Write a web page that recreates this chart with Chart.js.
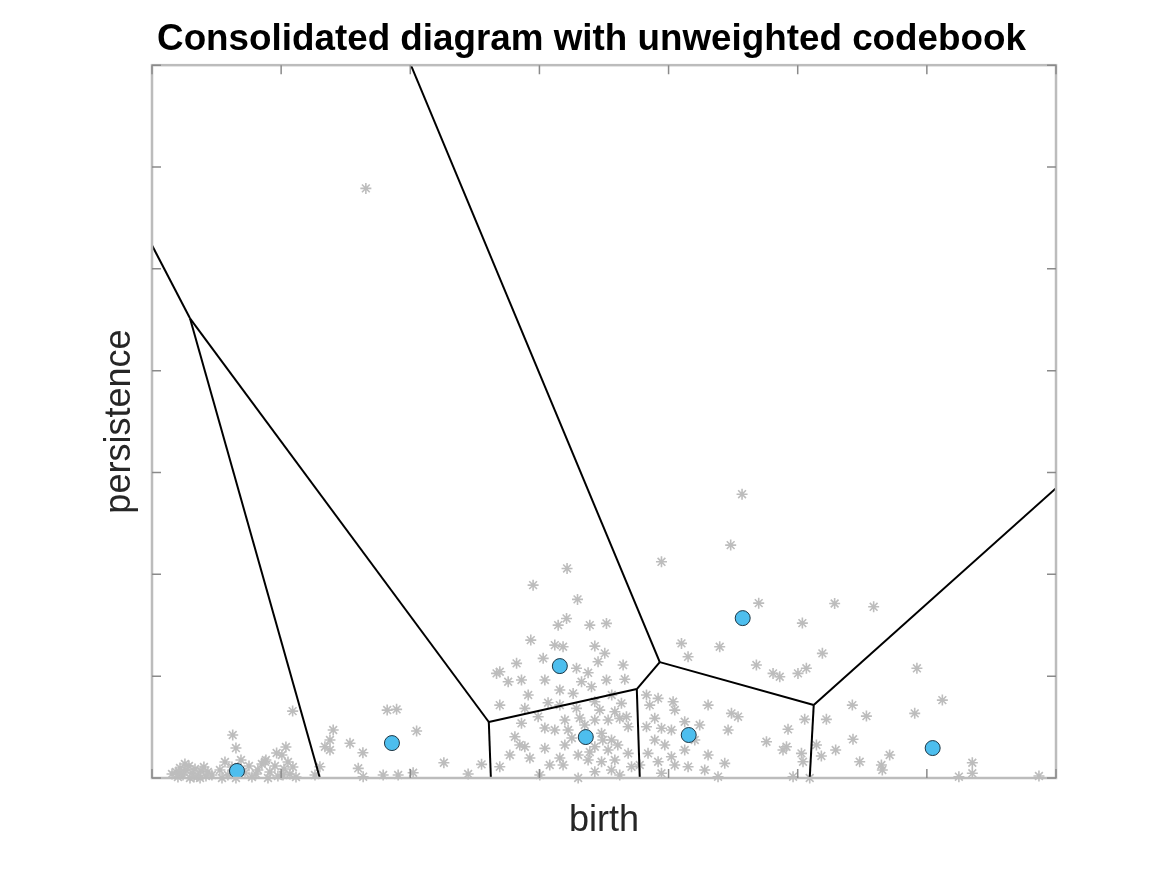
<!DOCTYPE html>
<html>
<head>
<meta charset="utf-8">
<script src="https://cdn.jsdelivr.net/npm/chart.js@4"></script>
<style>
  body{margin:0;background:#fff}
</style>
</head>
<body>
<canvas id="chart" width="1167" height="875"></canvas>
<script>
// grey persistence points (birth, persistence)
const starX = [0.186,0.217,0.240,0.263,0.286,0.310,0.333,0.356,0.379,0.402,
  0.201,0.294,0.372,0.433,0.464,0.255,0.526,0.565,0.588,0.619,
  0.689,0.720,0.751,0.774,0.542,0.650,0.820,0.851,0.882,0.913,
  0.952,0.975,1.006,1.022,1.053,1.068,1.091,1.115,1.037,0.898,
  1.089,0.625,0.650,0.965,0.875,
  1.403,1.378,1.339,1.378,1.533,1.633,1.821,1.894,2.049,2.260,
  1.597,1.635,1.790,1.906,2.022,1.300,1.262,2.448,2.552,2.668,
  2.933,3.119,3.183,3.429,3.506,3.454,3.029,2.823,2.693,2.758,
  2.861,3.042,3.287,3.377,3.648,3.661,3.519,3.326,3.403,2.913,
  3.261,3.067,2.887,3.287,3.429,3.635,3.622,3.532,3.429,3.197,
  2.990,2.861,2.810,2.887,3.042,3.197,3.119,3.222,3.481,3.558,
  3.532,3.429,3.300,3.377,3.481,3.584,3.687,3.713,3.558,3.429,
  3.183,3.300,3.003,2.693,3.674,3.687,3.584,
  3.829,3.919,4.035,4.048,3.893,3.829,3.945,4.022,4.125,4.241,
  4.306,4.487,4.538,4.461,3.893,3.841,3.919,4.022,4.125,4.048,
  4.151,4.306,4.435,4.280,4.383,3.945,4.100,4.151,4.396,4.680,
  4.569,4.481,3.945,3.214,2.951,3.295,3.210,3.145,3.390,3.519,4.698,
  5.286,5.036,5.588,
  4.809,4.861,5.002,5.067,5.191,5.923,6.120,5.906,5.423,5.532,
  5.054,5.222,4.925,4.758,4.886,4.913,5.029,5.041,5.183,5.294,
  5.428,5.480,5.648,5.655,5.712,5.145,6.352,6.352,6.248,6.868,
  4.964,5.093,1.656,
  3.251,3.351,3.158,3.390,3.607,3.491,3.080,3.622,2.926,2.771,
  3.042,3.313,3.467,3.560,3.158,3.854,3.971,4.203,3.777,2.693,
  3.158,2.848,0.217,0.325,0.418,0.805,1.014,0.155];
const starY = [0.059,0.098,0.029,0.079,0.118,0.049,0.088,0.020,0.069,0.108,
  0.010,0.000,0.000,0.059,0.029,0.137,0.079,0.157,0.029,0.108,
  0.177,0.049,0.118,0.010,0.000,0.000,0.079,0.137,0.177,0.059,
  0.118,0.020,0.226,0.088,0.157,0.039,0.108,0.010,0.304,0.000,
  0.657,0.422,0.294,0.245,0.160,
  0.471,0.373,0.307,0.275,0.341,0.248,0.667,0.674,0.461,0.150,
  0.095,0.013,0.029,0.029,0.052,0.111,0.029,0.039,0.134,1.027,
  1.354,1.305,1.289,1.295,1.224,1.141,1.175,1.126,1.043,0.945,
  0.962,0.962,1.077,1.033,1.109,0.969,0.962,0.945,0.896,0.815,
  0.831,0.739,0.684,0.684,0.749,0.733,0.586,0.569,0.569,0.569,
  0.602,0.537,0.405,0.307,0.291,0.324,0.471,0.471,0.439,0.373,
  0.275,0.307,0.226,0.177,0.160,0.177,0.242,0.111,0.079,0.062,
  0.128,0.000,0.029,0.111,0.602,0.503,0.651,
  0.815,0.782,0.749,0.667,0.586,0.503,0.488,0.471,0.552,0.520,
  0.716,0.635,0.602,0.471,0.373,0.242,0.160,0.209,0.275,0.128,
  0.111,0.226,0.144,0.079,0.013,0.046,1.322,1.190,1.289,1.109,
  2.787,2.287,2.123,2.058,1.894,1.754,1.567,1.501,1.501,1.518,1.717,
  1.714,1.521,1.681,
  1.027,0.994,1.027,1.077,1.224,1.077,0.765,0.635,0.716,0.608,
  0.576,0.576,0.478,0.356,0.275,0.307,0.242,0.160,0.216,0.275,
  0.380,0.160,0.128,0.079,0.226,0.324,0.150,0.046,0.013,0.020,
  0.013,0.000,5.790,
  0.393,0.520,0.196,0.255,0.324,0.373,0.128,0.029,0.196,0.226,
  0.491,0.589,0.667,0.815,0.716,0.716,0.324,0.373,0.128,0.716,
  0.864,0.324,0.049,0.010,0.020,0.039,0.029,0.039];

// codebook centers
const codeX = [0.658,1.858,3.158,3.359,4.156,4.574,6.045];
const codeY = [0.069,0.343,1.099,0.402,0.422,1.570,0.294];

// voronoi vertices and edges between them
const vertX = [2.005,3.932,0.000,0.294,1.300,2.608,2.624,3.754,3.777,5.124,5.093,7.000];
const vertY = [7.000,1.138,5.231,4.514,0.000,0.550,0.000,0.873,0.000,0.716,0.000,2.846];
const edges = [[0,1],[2,3],[3,4],[3,5],[5,6],[5,7],[7,8],[7,1],[1,9],[9,10],[9,11]];

const axisMin = 0, axisMax = 7;
const fontFam = 'Liberation Sans, Arial, sans-serif';

const lineSets = edges.map(e=>({
  type:'line',
  data:[{x:vertX[e[0]],y:vertY[e[0]]},{x:vertX[e[1]],y:vertY[e[1]]}],
  borderColor:'#000',
  borderWidth:2,
  pointRadius:0,
  fill:false,
  order:1
}))

// matlab style box with inward ticks
const boxPlugin = {
  id:'box',
  afterDatasetsDraw(chart){
    const {ctx, chartArea:a, scales} = chart
    ctx.save()
    ctx.strokeStyle='#bcbcbc'
    ctx.lineWidth=2.5
    ctx.strokeRect(a.left, a.top, a.right-a.left, a.bottom-a.top)
    ctx.strokeStyle='#8a8a8a'
    ctx.lineWidth=1.5
    ctx.beginPath()
    scales.x.ticks.forEach(t=>{
      const px = scales.x.getPixelForValue(t.value)
      ctx.moveTo(px,a.bottom); ctx.lineTo(px,a.bottom-9)
      ctx.moveTo(px,a.top); ctx.lineTo(px,a.top+9)
    })
    scales.y.ticks.forEach(t=>{
      const py = scales.y.getPixelForValue(t.value)
      ctx.moveTo(a.left,py); ctx.lineTo(a.left+9,py)
      ctx.moveTo(a.right,py); ctx.lineTo(a.right-9,py)
    })
    ctx.stroke()
    ctx.restore()
  }
}

const chart = new Chart(document.querySelector('#chart'),{
  type:'scatter',
  data:{
    datasets:[
      {
        data:codeX.map((x,i)=>({x:x,y:codeY[i]})),
        pointStyle:'circle',
        pointRadius:7.5,
        backgroundColor:'#4DBEEE',
        borderColor:'#1d3644',
        borderWidth:1,
        clip:false,
        order:0
      },
      ...lineSets,
      {
        data:starX.map((x,i)=>({x:x,y:starY[i]})),
        pointStyle:'star',
        pointRadius:5.5,
        borderColor:'#bdbdbd',
        backgroundColor:'#bdbdbd',
        borderWidth:1.6,
        clip:false,
        order:2
      }
    ]
  },
  options:{
    responsive:false,
    animation:false,
    layout:{padding:{left:16,right:0,top:0,bottom:0}},
    plugins:{
      legend:{display:false},
      tooltip:{enabled:false},
      title:{
        display:true,
        text:'Consolidated diagram with unweighted codebook',
        color:'#000',
        font:{family:fontFam,size:36.8,weight:'bold'},
        padding:{top:18,bottom:3}
      }
    },
    scales:{
      x:{
        type:'linear',min:axisMin,max:axisMax,
        ticks:{display:false,stepSize:1},
        grid:{display:false},
        border:{display:false},
        title:{display:true,text:'birth',color:'#262626',
          font:{family:fontFam,size:36},
          padding:{top:0,bottom:32}},
        afterFit(s){ s.height = 97 }
      },
      y:{
        type:'linear',min:axisMin,max:axisMax,
        ticks:{display:false,stepSize:1},
        grid:{display:false},
        border:{display:false},
        title:{display:true,text:'persistence',color:'#262626',
          font:{family:fontFam,size:36},
          padding:{top:82,bottom:0}},
        afterFit(s){ s.width = 136 }
      },
      yRight:{
        type:'linear',position:'right',min:0,max:1,
        ticks:{display:false},
        grid:{display:false},
        border:{display:false},
        afterFit(s){ s.width = 111 }
      }
    }
  },
  plugins:[boxPlugin]
})
</script>
</body>
</html>
